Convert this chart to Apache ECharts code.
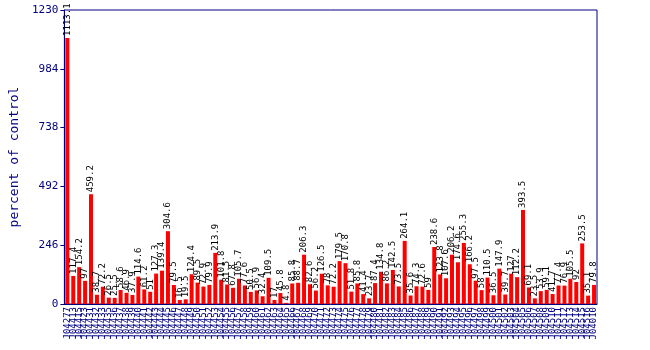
<!DOCTYPE html>
<html><head><meta charset="utf-8">
<script src="https://cdn.jsdelivr.net/npm/echarts@6/dist/echarts.min.js"></script>
<style>html,body{margin:0;padding:0;background:#fff}#c{width:650px;height:350px}</style>
</head><body><div id="c"></div>
<script>
const categories = [
"J04277","J04413","J04415","J04423","J04431","J04432","J04433","J04435","J04436","J04437",
"J04438","J04439","J04440","J04441","J04442","J04443","J04444","J04445","J04446","J04447",
"J04448","J04449","J04450","J04451","J04452","J04453","J04454","J04455","J04456","J04457",
"J04458","J04459","J04460","J04461","J04462","J04463","J04464","J04465","J04466","J04467",
"J04468","J04469","J04470","J04471","J04472","J04473","J04474","J04475","J04476","J04477",
"J04478","J04479","J04480","J04481","J04482","J04483","J04484","J04485","J04486","J04487",
"J04488","J04489","J04490","J04491","J04492","J04493","J04494","J04495","J04496","J04497",
"J04498","J04499","J04500","J04501","J04502","J04503","J04504","J04505","J04506","J04507",
"J04508","J04509","J04510","J04511","J04512","J04513","J04514","J04515","J04516","J04010"
];
const values = [
1113.1,117.4,154.2,97,459.2,38.7,72.2,26.5,25.5,58.6,
46.9,37.9,114.6,61.2,51,127.3,139.4,304.6,79.5,16.5,
19.5,124.4,89.5,72.9,79.9,213.9,101.8,81.5,67.8,105.7,
77.6,50.5,56.9,32.4,109.5,17,45.8,4.8,85.8,88.7,
206.3,82.6,56.2,126.5,78,72.2,179.5,170.8,51.8,85.8,
41.4,23.7,87.4,134.8,86.2,142.5,73.5,264.1,35.6,74.3,
72.6,59,238.6,123.8,107.6,206.2,174.6,255.3,166.2,97.5,
58,110.5,36.5,147.9,39.7,127,112.2,393.5,69.1,23.5,
53.9,59.1,41.7,77.4,76.9,105.5,92,253.5,35.1,79.8
];
const yTicks = [0,246,492,738,984,1230];
const navy = '#000080';
const chart = echarts.init(document.getElementById('c'));
chart.setOption({
  animation:false,
  grid:{left:52,right:53,top:10,bottom:46,show:true,borderColor:navy,borderWidth:1},
  xAxis:{type:'category',data:categories,
    axisLine:{lineStyle:{color:navy}},
    axisTick:{show:false},
    axisLabel:{interval:0,rotate:90,color:navy,fontSize:9,fontFamily:'DejaVu Sans Mono',margin:3}},
  yAxis:{type:'value',min:0,max:1230,interval:246,
    name:'percent of control',nameLocation:'middle',nameGap:40,
    nameTextStyle:{color:navy,fontSize:13,fontFamily:'DejaVu Sans Mono'},
    axisLine:{show:true,lineStyle:{color:navy}},
    axisTick:{show:true,length:4,lineStyle:{color:navy}},
    splitLine:{show:false},
    axisLabel:{color:navy,fontSize:11,fontFamily:'DejaVu Sans Mono',margin:6,
      formatter:v=>yTicks.includes(v)?String(v):''}},
  series:[{type:'bar',data:values,barWidth:4,
    itemStyle:{color:'#ff0000'},
    label:{show:true,position:'top',rotate:90,align:'left',verticalAlign:'middle',distance:2,
      color:'#000',fontSize:9,fontFamily:'DejaVu Sans Mono'}}]
});
</script></body></html>
